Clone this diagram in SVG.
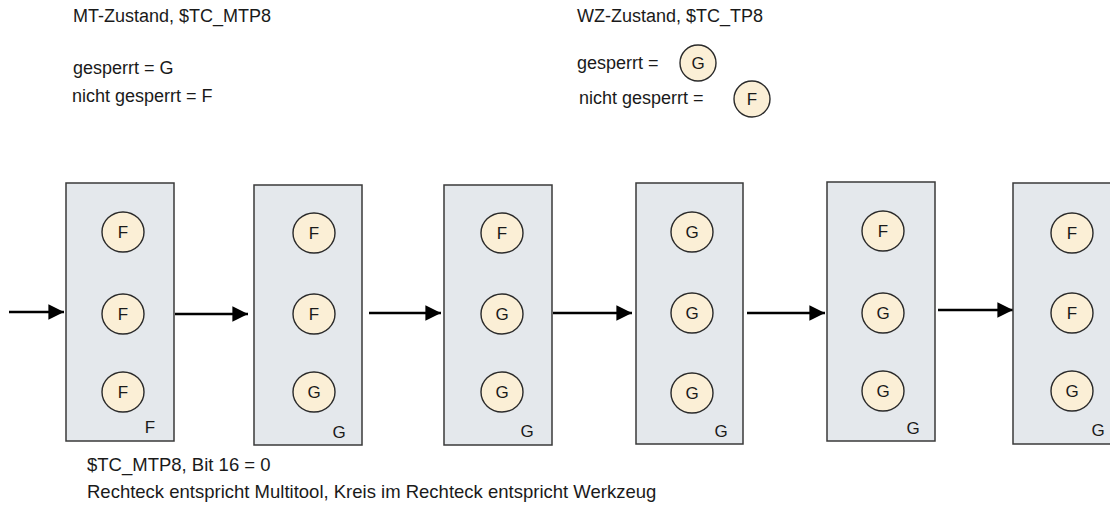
<svg xmlns="http://www.w3.org/2000/svg" width="1110" height="523" viewBox="0 0 1110 523">
  <style>
    text { font-family: "Liberation Sans", Arial, sans-serif; fill: #1a1a1a; }
    .txt { font-size: 18px; }
    .note { font-size: 18.5px; }
    .mt { fill: #e4e8ec; stroke: #3a3a3a; stroke-width: 1.5; }
    .wz { fill: #fbefd6; stroke: #2a2a2a; stroke-width: 1.4; }
    .ctr { font-size: 17px; text-anchor: middle; }
    .flow { stroke: #000; stroke-width: 2.4; fill: none; marker-end: url(#head); }
  </style>
  <defs>
    <marker id="head" viewBox="0 0 10 10" refX="10" refY="5" markerWidth="7" markerHeight="6.5" markerUnits="strokeWidth" orient="auto">
      <path d="M0,0 L10,5 L0,10 Z" fill="#000"/>
    </marker>
  </defs>

  <!-- legend: multitool state -->
  <g id="legend-mt">
    <text class="txt" x="73" y="22">MT-Zustand, $TC_MTP8</text>
    <text class="txt" x="73" y="74">gesperrt = G</text>
    <text class="txt" x="72" y="102">nicht gesperrt = F</text>
  </g>

  <!-- legend: tool state -->
  <g id="legend-wz">
    <text class="txt" x="577" y="22">WZ-Zustand, $TC_TP8</text>
    <text class="txt" x="577" y="69">gesperrt =</text>
    <ellipse class="wz" cx="698" cy="63" rx="18" ry="18"/>
    <text class="ctr" x="698" y="69">G</text>
    <text class="txt" x="579" y="104">nicht gesperrt =</text>
    <ellipse class="wz" cx="752" cy="99" rx="18" ry="18"/>
    <text class="ctr" x="752" y="105">F</text>
  </g>

  <!-- connectors -->
  <g id="connectors">
    <line class="flow" x1="9" y1="312" x2="64" y2="312"/>
    <line class="flow" x1="175" y1="314" x2="248" y2="314"/>
    <line class="flow" x1="369" y1="313" x2="441" y2="313"/>
    <line class="flow" x1="553" y1="313" x2="632" y2="313"/>
    <line class="flow" x1="747" y1="313" x2="825" y2="313"/>
    <line class="flow" x1="938" y1="310" x2="1013" y2="310"/>
  </g>

  <!-- multitool 1 -->
  <g id="mt1">
    <rect class="mt" x="66" y="183" width="108" height="258"/>
    <ellipse class="wz" cx="123" cy="232" rx="21" ry="20"/><text class="ctr" x="123" y="238">F</text>
    <ellipse class="wz" cx="123" cy="314" rx="21" ry="20"/><text class="ctr" x="123" y="320">F</text>
    <ellipse class="wz" cx="123" cy="392" rx="21" ry="20"/><text class="ctr" x="123" y="398">F</text>
    <text class="ctr" x="150" y="433">F</text>
  </g>

  <!-- multitool 2 -->
  <g id="mt2">
    <rect class="mt" x="254" y="185" width="108" height="260"/>
    <ellipse class="wz" cx="314" cy="233" rx="21" ry="20"/><text class="ctr" x="314" y="239">F</text>
    <ellipse class="wz" cx="314" cy="314" rx="21" ry="20"/><text class="ctr" x="314" y="320">F</text>
    <ellipse class="wz" cx="314" cy="392" rx="21" ry="20"/><text class="ctr" x="314" y="398">G</text>
    <text class="ctr" x="339" y="438">G</text>
  </g>

  <!-- multitool 3 -->
  <g id="mt3">
    <rect class="mt" x="444" y="185" width="108" height="260"/>
    <ellipse class="wz" cx="502" cy="233" rx="21" ry="20"/><text class="ctr" x="502" y="239">F</text>
    <ellipse class="wz" cx="502" cy="314" rx="21" ry="20"/><text class="ctr" x="502" y="320">G</text>
    <ellipse class="wz" cx="502" cy="392" rx="21" ry="20"/><text class="ctr" x="502" y="398">G</text>
    <text class="ctr" x="527" y="437">G</text>
  </g>

  <!-- multitool 4 -->
  <g id="mt4">
    <rect class="mt" x="636" y="183" width="107" height="261"/>
    <ellipse class="wz" cx="692" cy="232" rx="21" ry="20"/><text class="ctr" x="692" y="238">G</text>
    <ellipse class="wz" cx="692" cy="313" rx="21" ry="20"/><text class="ctr" x="692" y="319">G</text>
    <ellipse class="wz" cx="692" cy="393" rx="21" ry="20"/><text class="ctr" x="692" y="399">G</text>
    <text class="ctr" x="721" y="437">G</text>
  </g>

  <!-- multitool 5 -->
  <g id="mt5">
    <rect class="mt" x="827" y="182" width="108" height="259"/>
    <ellipse class="wz" cx="883" cy="231" rx="21" ry="20"/><text class="ctr" x="883" y="237">F</text>
    <ellipse class="wz" cx="883" cy="313" rx="21" ry="20"/><text class="ctr" x="883" y="319">G</text>
    <ellipse class="wz" cx="883" cy="391" rx="21" ry="20"/><text class="ctr" x="883" y="397">G</text>
    <text class="ctr" x="913" y="434">G</text>
  </g>

  <!-- multitool 6 -->
  <g id="mt6">
    <rect class="mt" x="1013" y="183" width="108" height="261"/>
    <ellipse class="wz" cx="1072" cy="233" rx="21" ry="20"/><text class="ctr" x="1072" y="239">F</text>
    <ellipse class="wz" cx="1072" cy="313" rx="21" ry="20"/><text class="ctr" x="1072" y="319">F</text>
    <ellipse class="wz" cx="1072" cy="391" rx="21" ry="20"/><text class="ctr" x="1072" y="397">G</text>
    <text class="ctr" x="1098" y="436">G</text>
  </g>

  <!-- footnote -->
  <g id="footnote">
    <text class="note" x="87" y="471">$TC_MTP8, Bit 16 = 0</text>
    <text class="note" x="87" y="498">Rechteck entspricht Multitool, Kreis im Rechteck entspricht Werkzeug</text>
  </g>
</svg>
